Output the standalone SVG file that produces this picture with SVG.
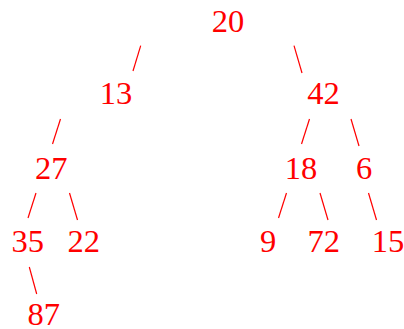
<svg xmlns="http://www.w3.org/2000/svg" width="404" height="329" viewBox="0 0 404 329">
<style>
text{font-family:"Liberation Serif","Times New Roman",serif;font-size:32.5px;fill:#ff0000;text-anchor:middle}
line{stroke:#ff0000;stroke-width:1.2}
</style>
<rect width="404" height="329" fill="#ffffff"/>
<g id="connectors">
<line x1="140.7" y1="45.7" x2="133" y2="71"/>
<line x1="294" y1="45.7" x2="302" y2="73"/>
<line x1="60.5" y1="119" x2="52.5" y2="144"/>
<line x1="309.5" y1="119" x2="301.5" y2="144"/>
<line x1="351" y1="119" x2="359" y2="146"/>
<line x1="36" y1="193" x2="28" y2="218"/>
<line x1="69.5" y1="193" x2="77.5" y2="220"/>
<line x1="286.5" y1="193" x2="278.5" y2="218"/>
<line x1="320" y1="193" x2="328" y2="220"/>
<line x1="368.5" y1="193" x2="376.5" y2="220"/>
<line x1="29.3" y1="267" x2="36.7" y2="294"/>
</g>
<g id="n20"><text x="228" y="31.5">20</text></g>
<g id="n13"><text x="116" y="104">13</text></g>
<g id="n42"><text x="323.5" y="104">42</text></g>
<g id="n27"><text x="51.3" y="178.5">27</text></g>
<g id="n18"><text x="301" y="178.5">18</text></g>
<g id="n6"><text x="364" y="178.5">6</text></g>
<g id="n35"><text x="27.7" y="252">35</text></g>
<g id="n22"><text x="83.8" y="252">22</text></g>
<g id="n9"><text x="268" y="252">9</text></g>
<g id="n72"><text x="323.8" y="252">72</text></g>
<g id="n15"><text x="388" y="252">15</text></g>
<g id="n87"><text x="43.8" y="324.5">87</text></g>
</svg>
